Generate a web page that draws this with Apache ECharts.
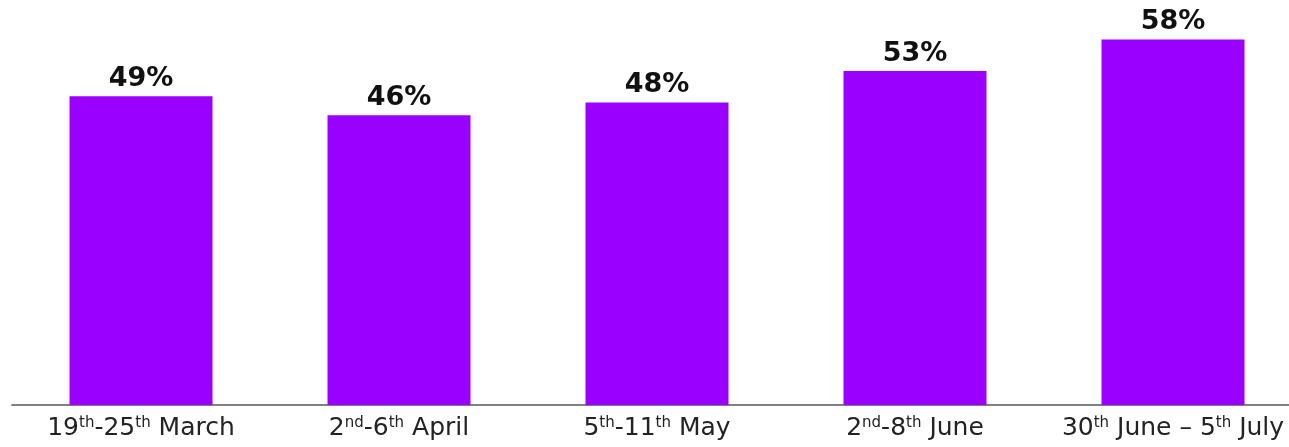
<!DOCTYPE html>
<html>
<head>
<meta charset="utf-8">
<script src="https://cdn.jsdelivr.net/npm/echarts@6/dist/echarts.min.js"></script>
<style>
  html, body { margin: 0; padding: 0; background: #ffffff; overflow: hidden; }
  /* the last category runs past the right edge of the page */
  #chart { width: 1320px; height: 447px; }
</style>
</head>
<body>
<div id="chart"></div>
<script>
// Survey waves (ordinal suffixes are drawn as superscripts)
const categories = [
  '19th-25th March',
  '2nd-6th April',
  '5th-11th May',
  '2nd-8th June',
  '30th June \u2013 5th July'
];
// Share of respondents, percent
const values = [49, 46, 48, 53, 58];

const chart = echarts.init(document.getElementById('chart'), null, { renderer: 'canvas' });

function withSuperscripts(text) {
  return text.replace(/(\d)(st|nd|rd|th)/g, '$1{sup|$2}');
}

chart.setOption({
  animation: false,
  backgroundColor: '#ffffff',
  grid: { left: 12, top: 27, width: 1290, bottom: 42, containLabel: false },
  xAxis: {
    type: 'category',
    data: categories,
    axisLine: { show: true, lineStyle: { color: '#808080', width: 2 } },
    axisTick: { show: false },
    axisLabel: {
      interval: 0,
      margin: 11,
      color: '#222222',
      fontFamily: 'DejaVu Sans',
      fontSize: 25,
      formatter: (v) => withSuperscripts(v),
      rich: {
        sup: {
          fontFamily: 'DejaVu Sans',
          fontSize: 15,
          color: '#222222',
          verticalAlign: 'top',
          padding: [0, 0, 10, 0]
        }
      }
    }
  },
  yAxis: {
    type: 'value',
    min: 0,
    max: 60,
    show: false,
    splitLine: { show: false }
  },
  series: [{
    type: 'bar',
    data: values,
    barWidth: 143,
    itemStyle: { color: '#9a00ff' },
    label: {
      show: true,
      position: 'top',
      distance: 4,
      formatter: '{c}%',
      color: '#111111',
      fontFamily: 'DejaVu Sans',
      fontWeight: 'bold',
      fontSize: 27
    }
  }]
});
</script>
</body>
</html>
